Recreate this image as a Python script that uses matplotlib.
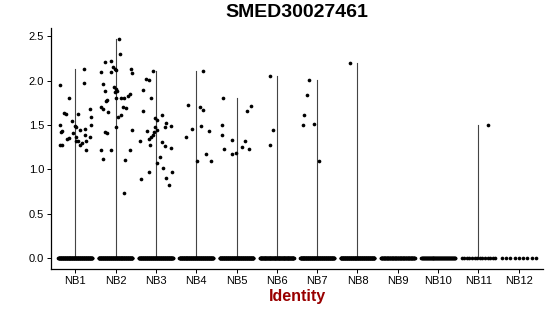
# SMED30027461 expression per identity (violin + jitter, Seurat style)
import matplotlib
matplotlib.use('Agg')
import matplotlib.pyplot as plt
import numpy as np

plt.rcParams['font.family'] = ['Liberation Sans', 'DejaVu Sans']

clusters = ['NB1', 'NB2', 'NB3', 'NB4', 'NB5', 'NB6',
            'NB7', 'NB8', 'NB9', 'NB10', 'NB11', 'NB12']

# number of cells with zero expression in each cluster (estimated)
zero_counts = [120, 120, 120, 120, 120, 110, 120, 120, 90, 70, 14, 9]

# non-zero expression values
nb1_vals = [1.95, 1.81, 1.64, 1.63, 1.62, 2.13, 1.98, 1.68, 1.59, 1.55, 1.50, 1.49,
            1.48, 1.50, 1.43, 1.42, 1.44, 1.46, 1.41, 1.39, 1.35, 1.34, 1.36, 1.32,
            1.32, 1.30, 1.28, 1.37, 1.32, 1.28, 1.27, 1.22]
nb2_vals = [2.47, 2.30, 2.21, 2.22, 2.10, 2.10, 2.15, 2.13, 2.12, 1.96, 1.89, 1.93,
            1.91, 1.87, 1.89, 1.78, 1.77, 1.80, 1.81, 1.81, 1.83, 1.85, 1.70, 1.68,
            1.65, 1.70, 1.69, 2.13, 2.09, 1.59, 1.61, 1.48, 1.45, 1.42, 1.41, 1.22,
            1.22, 1.22, 1.12, 1.11, 0.73]
nb3_vals = [2.11, 2.02, 2.01, 1.90, 1.80, 1.66, 1.61, 1.58, 1.56, 1.52, 1.48, 1.49,
            1.48, 1.44, 1.43, 1.42, 1.39, 1.37, 1.34, 1.28, 1.32, 1.31, 1.26, 1.24,
            1.14, 1.07, 1.01, 0.90, 0.82, 0.97, 0.89, 0.97]
nb4_vals = [1.36, 1.46, 1.73, 1.70, 1.67, 2.11, 1.49, 1.43, 1.10, 1.17, 1.09]
nb5_vals = [1.50, 1.81, 1.39, 1.23, 1.33, 1.17, 1.19, 1.25, 1.66, 1.71, 1.32, 1.23]
nb6_vals = [2.05, 1.44, 1.28]
nb7_vals = [2.01, 1.84, 1.61, 1.50, 1.51, 1.09]
nb8_vals = [2.20]
nb11_vals = [1.50]

# horizontal jitter of those points (fraction of a category slot)
nb1_jit = [-0.37, -0.16, -0.27, -0.23, 0.07, 0.21, 0.22, 0.37, 0.40, -0.08, -0.37, -0.01,
           0.03, 0.40, -0.33, -0.35, 0.11, 0.24, -0.05, 0.24, -0.15, -0.21, 0.02, 0.01,
           0.07, 0.16, 0.11, 0.37, 0.26, -0.33, -0.37, 0.26]
nb2_jit = [0.09, 0.12, -0.26, -0.11, -0.37, -0.12, -0.07, -0.02, 0.00, -0.30, -0.27, -0.04,
           0.01, -0.02, 0.03, -0.22, -0.24, 0.02, 0.14, 0.22, 0.32, 0.35, -0.37, -0.32,
           -0.18, 0.19, 0.25, 0.39, 0.41, 0.07, 0.13, 0.02, 0.41, -0.26, -0.22, -0.36,
           -0.12, 0.37, -0.30, 0.24, 0.20]
nb3_jit = [-0.06, -0.24, -0.16, -0.33, -0.11, -0.33, 0.15, -0.02, 0.03, 0.25, 0.23, 0.38,
           -0.01, 0.02, -0.21, -0.04, -0.07, -0.12, -0.16, -0.14, -0.40, 0.15, 0.22, 0.38,
           0.10, 0.03, 0.18, 0.26, 0.32, 0.39, -0.38, -0.17]
nb4_jit = [-0.25, -0.10, -0.21, 0.10, 0.18, 0.17, 0.12, 0.32, 0.03, 0.24, 0.36]
nb5_jit = [-0.37, -0.33, -0.35, -0.30, -0.10, -0.12, -0.01, 0.13, 0.25, 0.37, 0.21, 0.31]
nb6_jit = [-0.16, -0.09, -0.16]
nb7_jit = [-0.20, -0.24, -0.32, -0.36, -0.09, 0.04]
nb8_jit = [-0.18]
nb11_jit = [0.23]

nonzero = {1: (nb1_vals, nb1_jit), 2: (nb2_vals, nb2_jit), 3: (nb3_vals, nb3_jit),
           4: (nb4_vals, nb4_jit), 5: (nb5_vals, nb5_jit), 6: (nb6_vals, nb6_jit),
           7: (nb7_vals, nb7_jit), 8: (nb8_vals, nb8_jit), 11: (nb11_vals, nb11_jit)}

fig = plt.figure(figsize=(5.5, 3.16), dpi=100)
ax = fig.add_axes([51 / 550, 1 - 268.9 / 316, 492 / 550, 240.7 / 316])

for i, name in enumerate(clusters, start=1):
    # zero cells, spread evenly across the jitter width
    n0 = zero_counts[i - 1]
    xs = i + np.linspace(-0.42, 0.42, n0)
    ax.scatter(xs, np.zeros(n0), s=7, color='black', linewidths=0, zorder=3)
    if i in nonzero:
        vals, jit = nonzero[i]
        # collapsed violin: a thin line from min to max
        ax.plot([i, i], [0, max(vals)], color='#444444', lw=0.8, zorder=2)
        ax.scatter(i + np.array(jit), vals, s=7, color='black', linewidths=0, zorder=3)

ax.set_xlim(0.4, 12.6)
ax.set_ylim(-0.1235, 2.5935)
ax.set_xticks(range(1, len(clusters) + 1))
ax.set_xticklabels(clusters)
ax.set_yticks([0.0, 0.5, 1.0, 1.5, 2.0, 2.5])
ax.set_yticklabels(['0.0', '0.5', '1.0', '1.5', '2.0', '2.5'])

for side in ['top', 'right']:
    ax.spines[side].set_visible(False)
for side in ['left', 'bottom']:
    ax.spines[side].set_linewidth(0.9)
ax.tick_params(axis='both', length=3, width=0.7, labelsize=8, colors='black', pad=2)

ax.set_xlabel('Identity', fontsize=11.5, fontweight='bold', color='#990000', labelpad=2)
ax.set_title('SMED30027461', fontsize=14, fontweight='bold', pad=8)

fig.savefig('out.png', dpi=100)
